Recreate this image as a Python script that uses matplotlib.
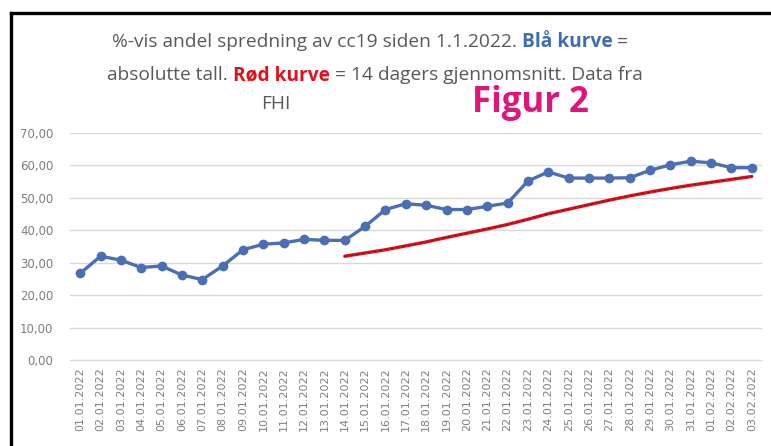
import matplotlib
matplotlib.use('Agg')
import matplotlib.pyplot as plt
from matplotlib.lines import Line2D
import numpy as np

# data
dates = ["01.01.2022", "02.01.2022", "03.01.2022", "04.01.2022", "05.01.2022",
         "06.01.2022", "07.01.2022", "08.01.2022", "09.01.2022", "10.01.2022",
         "11.01.2022", "12.01.2022", "13.01.2022", "14.01.2022", "15.01.2022",
         "16.01.2022", "17.01.2022", "18.01.2022", "19.01.2022", "20.01.2022",
         "21.01.2022", "22.01.2022", "23.01.2022", "24.01.2022", "25.01.2022",
         "26.01.2022", "27.01.2022", "28.01.2022", "29.01.2022", "30.01.2022",
         "31.01.2022", "01.02.2022", "02.02.2022", "03.02.2022"]
blaa = [26.7, 32.0, 30.8, 28.5, 29.0, 26.2, 24.8, 29.0, 34.0, 35.7,
        36.1, 37.2, 36.9, 36.9, 41.2, 46.4, 48.2, 47.7, 46.4, 46.4,
        47.4, 48.4, 55.2, 58.0, 56.1, 56.1, 56.1, 56.2, 58.5, 60.2,
        61.3, 60.8, 59.3, 59.3]
# 14-day average starts on 14.01.2022
rod_start = 13
rod = [32.0, 33.0, 34.0, 35.2, 36.4, 37.8, 39.1, 40.4, 41.8, 43.4,
       45.1, 46.5, 47.9, 49.3, 50.6, 51.8, 52.9, 53.9, 54.8, 55.7, 56.6]
yticks = [0, 10, 20, 30, 40, 50, 60, 70]

W, H = 771, 446
fig = plt.figure(figsize=(W / 100, H / 100), dpi=100)
fig.patch.set_facecolor('white')

ax = fig.add_axes([70 / W, 1 - 360 / H, 692 / W, 227 / H])
x = np.arange(len(dates))
xr = np.arange(rod_start, rod_start + len(rod))

ax.plot(x, blaa, color='#4a6fb5', lw=2.4, marker='o', ms=6, zorder=3)
ax.plot(xr, rod, color='#e0101c', lw=2.4, solid_capstyle='round', zorder=4)
ax.plot(xr, rod, color='#6a1a1a', lw=0.7, ls=(0, (3, 3)), zorder=5)

ax.set_xlim(-0.5, len(dates) - 0.5)
ax.set_ylim(0, 70)
ax.set_yticks(yticks)
ax.set_yticklabels([f"{v:.2f}".replace('.', ',') for v in yticks],
                   fontsize=8.5, color='#7f7f7f', family='DejaVu Sans')
ax.set_xticks(x)
ax.set_xticklabels(dates, rotation=90, fontsize=8, color='#7f7f7f',
                   family='DejaVu Sans')
ax.tick_params(axis='y', length=0, pad=12)
ax.tick_params(axis='x', length=0, pad=5)
ax.grid(axis='y', color='#d9d9d9', lw=1)
ax.set_axisbelow(True)
for s in ['top', 'right', 'left']:
    ax.spines[s].set_visible(False)
ax.spines['bottom'].set_color('#d9d9d9')

# title built from coloured pieces
fam = 'Open Sans'
fs = 13.8
grey = '#595959'
fig.canvas.draw()
r = fig.canvas.get_renderer()


def line(pieces, y, xc):
    texts = []
    for txt, col, w in pieces:
        texts.append(fig.text(0, y, txt, color=col, fontsize=fs, family=fam,
                              weight=w, va='center', ha='left'))
    widths = [t.get_window_extent(r).width for t in texts]
    x0 = xc - sum(widths) / 2
    for t, w in zip(texts, widths):
        t.set_x(x0 / W)
        x0 += w


line([("%-vis andel spredning av cc19 siden 1.1.2022. ", grey, 'normal'),
      ("Blå kurve", '#3f6eb0', 'bold'),
      (" =", grey, 'normal')], 1 - 42 / H, 370)
line([("absolutte tall. ", grey, 'normal'),
      ("Rød kurve", '#e0101c', 'bold'),
      (" = 14 dagers gjennomsnitt. Data fra", grey, 'normal')], 1 - 75 / H, 375)
fig.text(276 / W, 1 - 104 / H, "FHI", color=grey, fontsize=fs, family=fam,
         ha='center', va='center')
fig.text(530 / W, 1 - 103 / H, "Figur 2", color='#e0157a', fontsize=25,
         family=fam, weight='bold', ha='center', va='center')

# black frame (cut off at right and bottom)
fig.add_artist(Line2D([11 / W, 11 / W], [0, 1 - 13 / H], color='black', lw=2.4,
                      transform=fig.transFigure))
fig.add_artist(Line2D([11 / W, 1], [1 - 13 / H, 1 - 13 / H], color='black',
                      lw=2.4, transform=fig.transFigure))

fig.savefig('out.png', dpi=100)
